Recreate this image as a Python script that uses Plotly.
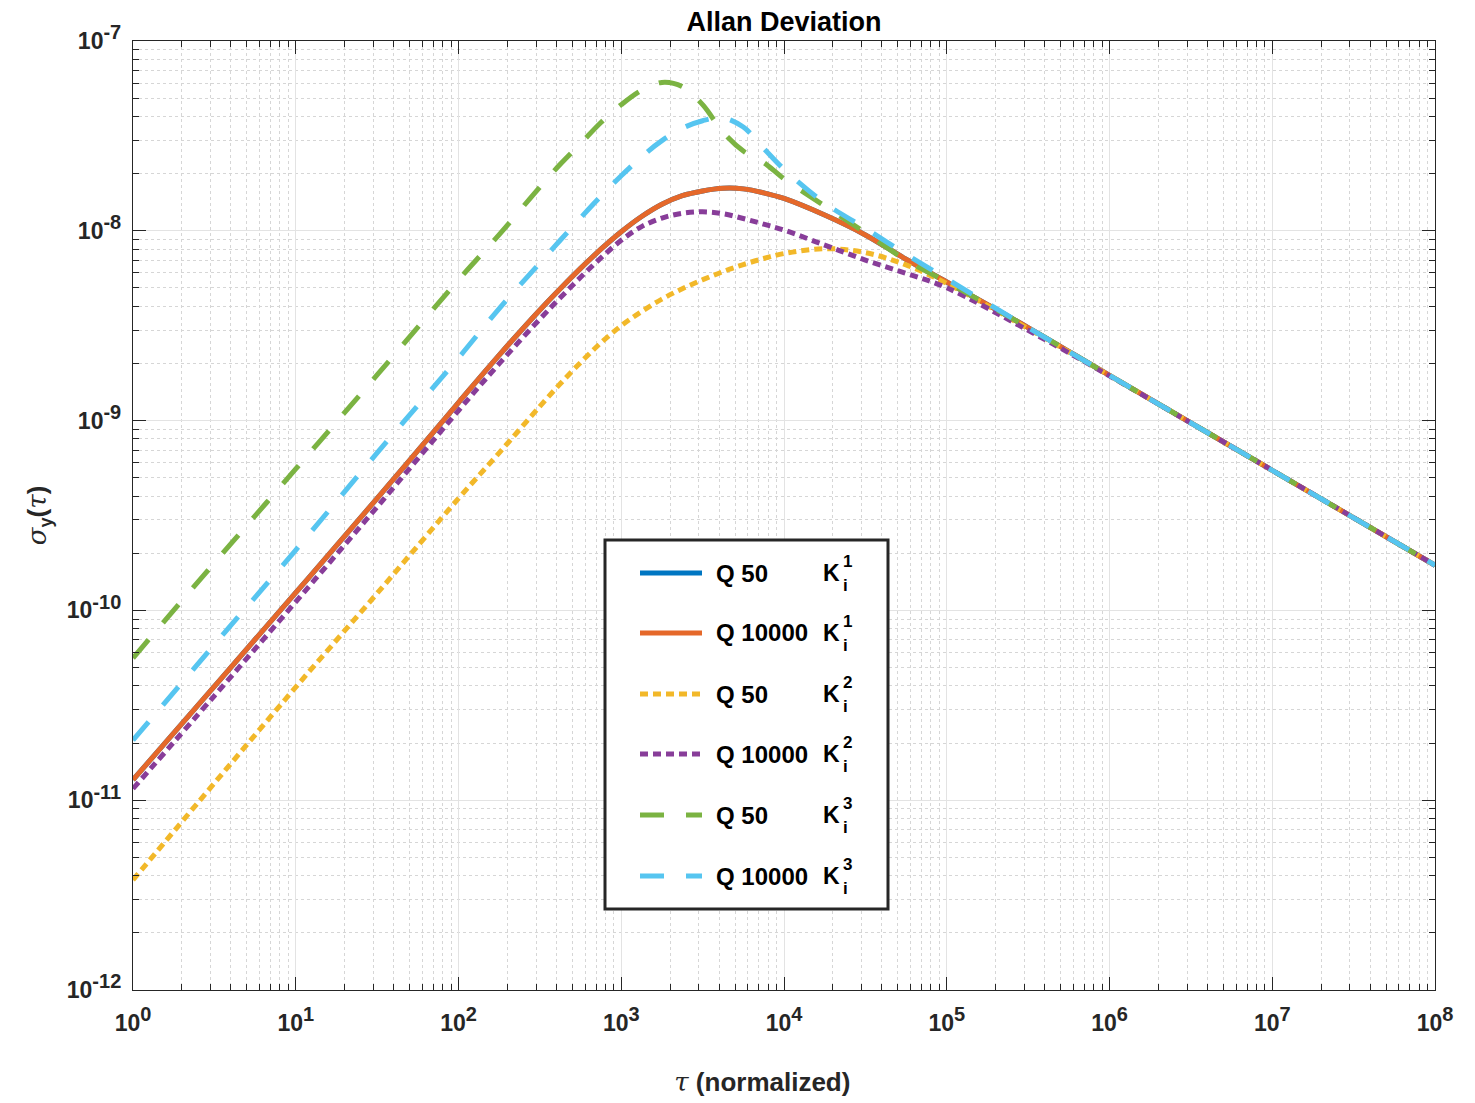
import plotly.graph_objects as go

# ---------------- data ----------------
tau = [1, 3.162, 10, 31.62, 100, 177.8, 316.2, 421.7, 562.3, 749.9,
       1000, 1334, 1778, 2371, 3162, 4217, 5623, 7499, 10000, 17780,
       31620, 56230, 1e5, 3.162e5, 1e6, 1e7, 1e8]

sigma_q10000_k1 = [1.28e-11, 3.98e-11, 1.24e-10, 3.89e-10, 1.245e-9, 2.213e-9, 3.828e-9, 4.955e-9, 6.339e-9, 7.998e-9,
                   9.886e-9, 1.189e-8, 1.380e-8, 1.531e-8, 1.622e-8, 1.675e-8, 1.663e-8, 1.585e-8, 1.48e-8, 1.21e-8,
                   9.51e-9, 7.08e-9, 5.37e-9, 3.09e-9, 1.73e-9, 5.47e-10, 1.73e-10]
sigma_q50_k1 = list(sigma_q10000_k1)  # hidden underneath the Q 10000 curve in the reference

sigma_q50_k2 = [3.80e-12, 1.23e-11, 3.94e-11, 1.23e-10, 3.89e-10, 6.76e-10, 1.189e-9, 1.563e-9, 2.023e-9, 2.570e-9,
                3.162e-9, 3.758e-9, 4.365e-9, 4.955e-9, 5.521e-9, 6.095e-9, 6.637e-9, 7.145e-9, 7.586e-9, 8.054e-9,
                7.674e-9, 6.61e-9, 5.28e-9, 3.05e-9, 1.73e-9, 5.47e-10, 1.73e-10]

sigma_q10000_k2 = [1.15e-11, 3.55e-11, 1.11e-10, 3.51e-10, 1.130e-9, 1.995e-9, 3.428e-9, 4.436e-9, 5.689e-9, 7.194e-9,
                   8.913e-9, 1.052e-8, 1.167e-8, 1.236e-8, 1.259e-8, 1.230e-8, 1.161e-8, 1.084e-8, 1.009e-8, 8.41e-9,
                   7.01e-9, 5.97e-9, 5.01e-9, 2.99e-9, 1.72e-9, 5.47e-10, 1.73e-10]

sigma_q50_k3 = [5.61e-11, 1.78e-10, 5.56e-10, 1.74e-9, 5.51e-9, 9.55e-9, 1.70e-8, 2.24e-8, 2.88e-8, 3.72e-8,
                4.62e-8, 5.50e-8, 6.05e-8, 5.75e-8, 4.62e-8, 3.31e-8, 2.63e-8, 2.29e-8, 1.88e-8, 1.35e-8,
                9.77e-9, 7.00e-9, 5.37e-9, 3.09e-9, 1.73e-9, 5.47e-10, 1.73e-10]

sigma_q10000_k3 = [2.07e-11, 6.61e-11, 2.08e-10, 6.76e-10, 2.14e-9, 3.890e-9, 6.761e-9, 8.913e-9, 1.169e-8, 1.521e-8,
                   1.950e-8, 2.455e-8, 2.985e-8, 3.467e-8, 3.802e-8, 3.936e-8, 3.52e-8, 2.72e-8, 2.11e-8, 1.40e-8,
                   1.03e-8, 7.52e-9, 5.58e-9, 3.09e-9, 1.73e-9, 5.47e-10, 1.73e-10]

q_labels = ["Q 50", "Q 10000", "Q 50", "Q 10000", "Q 50", "Q 10000"]
k_index = ["1", "1", "2", "2", "3", "3"]

x_tick_exp = [0, 1, 2, 3, 4, 5, 6, 7, 8]
y_tick_exp = [-12, -11, -10, -9, -8, -7]

# ---------------- styles ----------------
colors = ["#0076C2", "#E5682A", "#F2B829", "#883D99", "#7BB342", "#56C5F0"]
DOT = "8px,5px"
DASH = "24px,22px"
dashes = ["solid", "solid", DOT, DOT, DASH, DASH]
series = [sigma_q50_k1, sigma_q10000_k1, sigma_q50_k2, sigma_q10000_k2, sigma_q50_k3, sigma_q10000_k3]

INK = "#262626"
FONT = "Liberation Sans, Arial, Helvetica, sans-serif"
SERIF_I = "<span style='font-family:DejaVu Serif;font-weight:normal'><i>{}</i></span>"

fig = go.Figure()
for ys, c, d, q, k in zip(series, colors, dashes, q_labels, k_index):
    fig.add_trace(go.Scatter(
        x=tau, y=ys, mode="lines", name=f"{q} K_i^{k}",
        line=dict(color=c, width=5, dash=d, shape="spline", smoothing=1.0),
        showlegend=False, hoverinfo="skip"))

x_minor = [m * 10 ** k for k in range(0, 8) for m in range(2, 10)]
y_minor = [m * 10.0 ** k for k in range(-12, -7) for m in range(2, 10)]


def power_label(e):
    return f"10<sup><span style='font-size:20px'>{e}</span></sup>"


axis_common = dict(
    type="log", ticks="inside", ticklen=13, tickwidth=1, tickcolor=INK,
    showline=True, linecolor=INK, linewidth=1.3, mirror="allticks",
    showgrid=True, gridcolor="#E3E3E3", gridwidth=1, zeroline=False,
    tickfont=dict(size=23, color=INK, family=FONT, weight="bold"),
)
minor_common = dict(tickmode="array", ticks="inside", ticklen=6, tickcolor=INK,
                    showgrid=True, gridcolor="#D6D6D6", griddash="dot", gridwidth=1)

fig.update_xaxes(
    **axis_common, range=[0, 8], tickmode="array",
    tickvals=[10 ** e for e in x_tick_exp],
    ticktext=[power_label(e) for e in x_tick_exp],
    ticklabelstandoff=12,
    minor=dict(**minor_common, tickvals=x_minor),
    title=dict(text=SERIF_I.format("τ") + " (normalized)" + "&nbsp;" * 6,
               font=dict(size=26, color=INK, family=FONT, weight="bold"), standoff=38),
)
fig.update_yaxes(
    **axis_common, range=[-12, -7], tickmode="array",
    tickvals=[10.0 ** e for e in y_tick_exp],
    ticktext=[power_label(e) for e in y_tick_exp],
    ticklabelstandoff=6,
    minor=dict(**minor_common, tickvals=y_minor),
    title=dict(text=SERIF_I.format("σ") + "<sub>y</sub>(" + SERIF_I.format("τ") + ")",
               font=dict(size=26, color=INK, family=FONT, weight="bold"), standoff=12),
)

W, H = 1475, 1103
L, R, T, B = 133, 40, 41, 113
PW, PH = W - L - R, H - T - B


def px(x):
    return (x - L) / PW


def py(y):
    return (H - B - y) / PH


# ---------------- legend box (drawn as decoration) ----------------
shapes = [dict(type="rect", xref="paper", yref="paper",
               x0=px(605), x1=px(888), y0=py(909), y1=py(540),
               line=dict(color=INK, width=3), fillcolor="white", layer="above")]
annotations = []
row_y = [573, 633, 694, 754, 815, 876]
for yy, c, d, q, k in zip(row_y, colors, dashes, q_labels, k_index):
    shapes.append(dict(type="line", xref="paper", yref="paper",
                       x0=px(640), x1=px(702), y0=py(yy), y1=py(yy),
                       line=dict(color=c, width=5, dash=d), layer="above"))
    annotations.append(dict(xref="paper", yref="paper", x=px(714), y=py(yy), text=q,
                            xanchor="left", yanchor="middle", showarrow=False,
                            font=dict(size=24, color="black", family=FONT, weight="bold")))
    annotations.append(dict(xref="paper", yref="paper", x=px(821), y=py(yy), text="K",
                            xanchor="left", yanchor="middle", showarrow=False,
                            font=dict(size=23, color="black", family=FONT, weight="bold")))
    annotations.append(dict(xref="paper", yref="paper", x=px(841), y=py(yy - 12), text=k,
                            xanchor="left", yanchor="middle", showarrow=False,
                            font=dict(size=17, color="black", family=FONT, weight="bold")))
    annotations.append(dict(xref="paper", yref="paper", x=px(841), y=py(yy + 12), text="i",
                            xanchor="left", yanchor="middle", showarrow=False,
                            font=dict(size=17, color="black", family=FONT, weight="bold")))

fig.update_layout(
    width=W, height=H, margin=dict(l=L, r=R, t=T, b=B),
    paper_bgcolor="white", plot_bgcolor="white",
    font=dict(family=FONT, color=INK, size=23, weight="bold"),
    title=dict(text="Allan Deviation", x=0.5, xref="paper", xanchor="center",
               y=1 - 22 / H, yref="container", yanchor="middle",
               font=dict(size=27, color="black", family=FONT, weight="bold")),
    showlegend=False, shapes=shapes, annotations=annotations,
)

fig.write_html("out.html")
